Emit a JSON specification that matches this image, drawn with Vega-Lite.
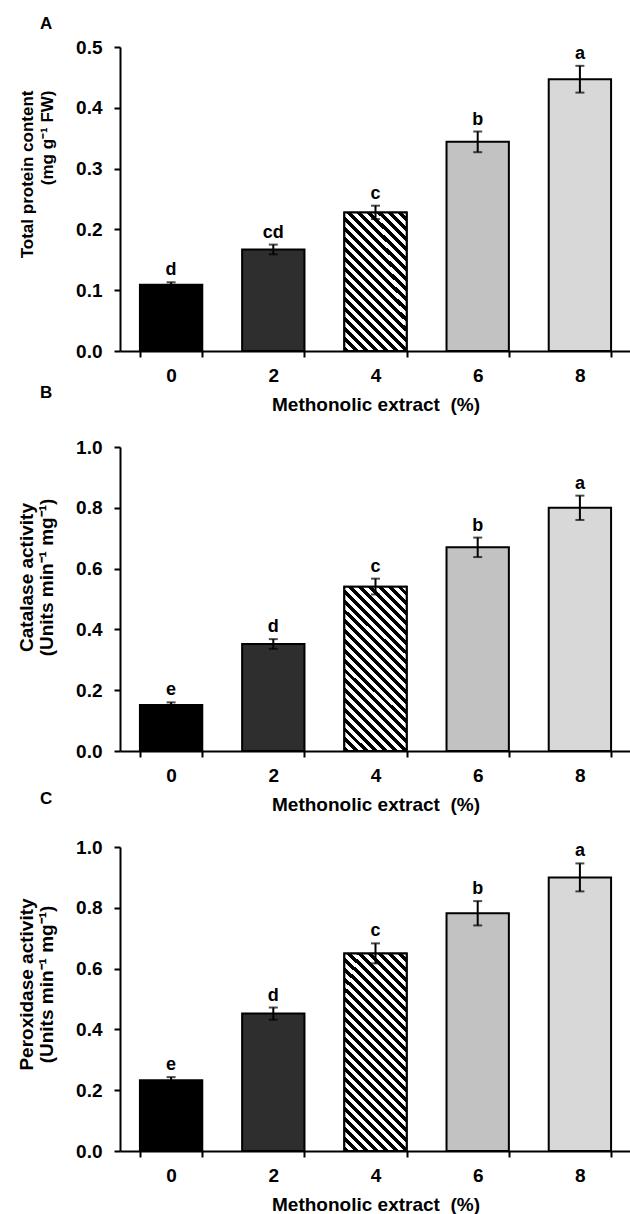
{
  "$schema": "https://vega.github.io/schema/vega-lite/v6.json",
  "padding": {"left": 17, "top": 15, "right": 0, "bottom": 0},
  "bounds": "flush",
  "spacing": 96,
  "vconcat": [
    {
      "width": 511, "height": 304,
      "title": {"text": "A", "offset": 5},
      "data": {"values": [
        {"extract": "0", "value": 0.109, "lo": 0.105, "hi": 0.113, "label": "d"},
        {"extract": "2", "value": 0.167, "lo": 0.159, "hi": 0.175, "label": "cd"},
        {"extract": "4", "value": 0.228, "lo": 0.217, "hi": 0.239, "label": "c"},
        {"extract": "6", "value": 0.344, "lo": 0.327, "hi": 0.361, "label": "b"},
        {"extract": "8", "value": 0.447, "lo": 0.425, "hi": 0.469, "label": "a"}
      ]},
      "encoding": {
        "x": {"field": "extract", "type": "ordinal", "scale": {"paddingInner": 0.39, "paddingOuter": 0.195}, "axis": {"title": "Methonolic extract\u00a0 (%)"}}
      },
      "layer": [
        {
          "mark": {"type": "bar", "stroke": "black", "strokeWidth": 2},
          "encoding": {
            "y": {"field": "value", "type": "quantitative", "scale": {"domain": [0, 0.5], "nice": false}, "axis": {"values": [0, 0.1, 0.2, 0.3, 0.4, 0.5], "format": ".1f", "titleFontSize": 17, "titleAlign": "right", "titleY": 43}, "title": ["Total protein content", "(mg g⁻¹ FW)"]},
            "fill": {"field": "extract", "type": "ordinal", "scale": {"domain": ["0", "2", "4", "6", "8"], "range": ["#000000", "#2e2e2e", "#ffffff", "#c2c2c2", "#d8d8d8"]}, "legend": null}
          }
        },
        {
          "transform": [{"filter": "datum.extract == '4'"}],
          "mark": {"type": "bar", "stroke": "black", "strokeWidth": 2, "fill": {
          "gradient": "linear", "x1": 0, "y1": 1, "x2": 0.538, "y2": -0.206,
          "stops": [
            {"offset": 0, "color": "#000"}, {"offset": 0.025, "color": "#000"}, {"offset": 0.025, "color": "#fff"}, {"offset": 0.05, "color": "#fff"},
            {"offset": 0.05, "color": "#000"}, {"offset": 0.075, "color": "#000"}, {"offset": 0.075, "color": "#fff"}, {"offset": 0.1, "color": "#fff"},
            {"offset": 0.1, "color": "#000"}, {"offset": 0.125, "color": "#000"}, {"offset": 0.125, "color": "#fff"}, {"offset": 0.15, "color": "#fff"},
            {"offset": 0.15, "color": "#000"}, {"offset": 0.175, "color": "#000"}, {"offset": 0.175, "color": "#fff"}, {"offset": 0.2, "color": "#fff"},
            {"offset": 0.2, "color": "#000"}, {"offset": 0.225, "color": "#000"}, {"offset": 0.225, "color": "#fff"}, {"offset": 0.25, "color": "#fff"},
            {"offset": 0.25, "color": "#000"}, {"offset": 0.275, "color": "#000"}, {"offset": 0.275, "color": "#fff"}, {"offset": 0.3, "color": "#fff"},
            {"offset": 0.3, "color": "#000"}, {"offset": 0.325, "color": "#000"}, {"offset": 0.325, "color": "#fff"}, {"offset": 0.35, "color": "#fff"},
            {"offset": 0.35, "color": "#000"}, {"offset": 0.375, "color": "#000"}, {"offset": 0.375, "color": "#fff"}, {"offset": 0.4, "color": "#fff"},
            {"offset": 0.4, "color": "#000"}, {"offset": 0.425, "color": "#000"}, {"offset": 0.425, "color": "#fff"}, {"offset": 0.45, "color": "#fff"},
            {"offset": 0.45, "color": "#000"}, {"offset": 0.475, "color": "#000"}, {"offset": 0.475, "color": "#fff"}, {"offset": 0.5, "color": "#fff"},
            {"offset": 0.5, "color": "#000"}, {"offset": 0.525, "color": "#000"}, {"offset": 0.525, "color": "#fff"}, {"offset": 0.55, "color": "#fff"},
            {"offset": 0.55, "color": "#000"}, {"offset": 0.575, "color": "#000"}, {"offset": 0.575, "color": "#fff"}, {"offset": 0.6, "color": "#fff"},
            {"offset": 0.6, "color": "#000"}, {"offset": 0.625, "color": "#000"}, {"offset": 0.625, "color": "#fff"}, {"offset": 0.65, "color": "#fff"},
            {"offset": 0.65, "color": "#000"}, {"offset": 0.675, "color": "#000"}, {"offset": 0.675, "color": "#fff"}, {"offset": 0.7, "color": "#fff"},
            {"offset": 0.7, "color": "#000"}, {"offset": 0.725, "color": "#000"}, {"offset": 0.725, "color": "#fff"}, {"offset": 0.75, "color": "#fff"},
            {"offset": 0.75, "color": "#000"}, {"offset": 0.775, "color": "#000"}, {"offset": 0.775, "color": "#fff"}, {"offset": 0.8, "color": "#fff"},
            {"offset": 0.8, "color": "#000"}, {"offset": 0.825, "color": "#000"}, {"offset": 0.825, "color": "#fff"}, {"offset": 0.85, "color": "#fff"},
            {"offset": 0.85, "color": "#000"}, {"offset": 0.875, "color": "#000"}, {"offset": 0.875, "color": "#fff"}, {"offset": 0.9, "color": "#fff"},
            {"offset": 0.9, "color": "#000"}, {"offset": 0.925, "color": "#000"}, {"offset": 0.925, "color": "#fff"}, {"offset": 0.95, "color": "#fff"},
            {"offset": 0.95, "color": "#000"}, {"offset": 0.975, "color": "#000"}, {"offset": 0.975, "color": "#fff"}, {"offset": 1, "color": "#fff"}
          ]}},
          "encoding": {"y": {"field": "value", "type": "quantitative", "title": ["Total protein content", "(mg g⁻¹ FW)"]}}
        },
        {
          "mark": {"type": "errorbar", "color": "black", "ticks": {"size": 9, "thickness": 2}, "rule": {"strokeWidth": 2}},
          "encoding": {"y": {"field": "lo", "type": "quantitative", "title": ["Total protein content", "(mg g⁻¹ FW)"]}, "y2": {"field": "hi"}}
        },
        {
          "mark": {"type": "text", "baseline": "bottom", "dy": -3, "fontSize": 18, "fontWeight": "bold", "font": "Liberation Sans", "color": "black"},
          "encoding": {"y": {"field": "hi", "type": "quantitative", "title": ["Total protein content", "(mg g⁻¹ FW)"]}, "text": {"field": "label"}}
        }
      ]
    },
    {
      "width": 511, "height": 304,
      "title": {"text": "B", "offset": 36},
      "data": {"values": [
        {"extract": "0", "value": 0.151, "lo": 0.143, "hi": 0.16, "label": "e"},
        {"extract": "2", "value": 0.352, "lo": 0.336, "hi": 0.368, "label": "d"},
        {"extract": "4", "value": 0.54, "lo": 0.515, "hi": 0.567, "label": "c"},
        {"extract": "6", "value": 0.67, "lo": 0.638, "hi": 0.702, "label": "b"},
        {"extract": "8", "value": 0.8, "lo": 0.76, "hi": 0.84, "label": "a"}
      ]},
      "encoding": {
        "x": {"field": "extract", "type": "ordinal", "scale": {"paddingInner": 0.39, "paddingOuter": 0.195}, "axis": {"title": "Methonolic extract\u00a0 (%)"}}
      },
      "layer": [
        {
          "mark": {"type": "bar", "stroke": "black", "strokeWidth": 2},
          "encoding": {
            "y": {"field": "value", "type": "quantitative", "scale": {"domain": [0, 1], "nice": false}, "axis": {"values": [0, 0.2, 0.4, 0.6, 0.8, 1.0], "format": ".1f", "titleY": 130}, "title": ["Catalase activity", "(Units min⁻¹ mg⁻¹)"]},
            "fill": {"field": "extract", "type": "ordinal", "scale": {"domain": ["0", "2", "4", "6", "8"], "range": ["#000000", "#2e2e2e", "#ffffff", "#c2c2c2", "#d8d8d8"]}, "legend": null}
          }
        },
        {
          "transform": [{"filter": "datum.extract == '4'"}],
          "mark": {"type": "bar", "stroke": "black", "strokeWidth": 2, "fill": {
          "gradient": "linear", "x1": 0, "y1": 1, "x2": 0.456, "y2": -0.206,
          "stops": [
            {"offset": 0, "color": "#000"}, {"offset": 0.02174, "color": "#000"}, {"offset": 0.02174, "color": "#fff"}, {"offset": 0.04348, "color": "#fff"},
            {"offset": 0.04348, "color": "#000"}, {"offset": 0.06522, "color": "#000"}, {"offset": 0.06522, "color": "#fff"}, {"offset": 0.08696, "color": "#fff"},
            {"offset": 0.08696, "color": "#000"}, {"offset": 0.1087, "color": "#000"}, {"offset": 0.1087, "color": "#fff"}, {"offset": 0.13043, "color": "#fff"},
            {"offset": 0.13043, "color": "#000"}, {"offset": 0.15217, "color": "#000"}, {"offset": 0.15217, "color": "#fff"}, {"offset": 0.17391, "color": "#fff"},
            {"offset": 0.17391, "color": "#000"}, {"offset": 0.19565, "color": "#000"}, {"offset": 0.19565, "color": "#fff"}, {"offset": 0.21739, "color": "#fff"},
            {"offset": 0.21739, "color": "#000"}, {"offset": 0.23913, "color": "#000"}, {"offset": 0.23913, "color": "#fff"}, {"offset": 0.26087, "color": "#fff"},
            {"offset": 0.26087, "color": "#000"}, {"offset": 0.28261, "color": "#000"}, {"offset": 0.28261, "color": "#fff"}, {"offset": 0.30435, "color": "#fff"},
            {"offset": 0.30435, "color": "#000"}, {"offset": 0.32609, "color": "#000"}, {"offset": 0.32609, "color": "#fff"}, {"offset": 0.34783, "color": "#fff"},
            {"offset": 0.34783, "color": "#000"}, {"offset": 0.36957, "color": "#000"}, {"offset": 0.36957, "color": "#fff"}, {"offset": 0.3913, "color": "#fff"},
            {"offset": 0.3913, "color": "#000"}, {"offset": 0.41304, "color": "#000"}, {"offset": 0.41304, "color": "#fff"}, {"offset": 0.43478, "color": "#fff"},
            {"offset": 0.43478, "color": "#000"}, {"offset": 0.45652, "color": "#000"}, {"offset": 0.45652, "color": "#fff"}, {"offset": 0.47826, "color": "#fff"},
            {"offset": 0.47826, "color": "#000"}, {"offset": 0.5, "color": "#000"}, {"offset": 0.5, "color": "#fff"}, {"offset": 0.52174, "color": "#fff"},
            {"offset": 0.52174, "color": "#000"}, {"offset": 0.54348, "color": "#000"}, {"offset": 0.54348, "color": "#fff"}, {"offset": 0.56522, "color": "#fff"},
            {"offset": 0.56522, "color": "#000"}, {"offset": 0.58696, "color": "#000"}, {"offset": 0.58696, "color": "#fff"}, {"offset": 0.6087, "color": "#fff"},
            {"offset": 0.6087, "color": "#000"}, {"offset": 0.63043, "color": "#000"}, {"offset": 0.63043, "color": "#fff"}, {"offset": 0.65217, "color": "#fff"},
            {"offset": 0.65217, "color": "#000"}, {"offset": 0.67391, "color": "#000"}, {"offset": 0.67391, "color": "#fff"}, {"offset": 0.69565, "color": "#fff"},
            {"offset": 0.69565, "color": "#000"}, {"offset": 0.71739, "color": "#000"}, {"offset": 0.71739, "color": "#fff"}, {"offset": 0.73913, "color": "#fff"},
            {"offset": 0.73913, "color": "#000"}, {"offset": 0.76087, "color": "#000"}, {"offset": 0.76087, "color": "#fff"}, {"offset": 0.78261, "color": "#fff"},
            {"offset": 0.78261, "color": "#000"}, {"offset": 0.80435, "color": "#000"}, {"offset": 0.80435, "color": "#fff"}, {"offset": 0.82609, "color": "#fff"},
            {"offset": 0.82609, "color": "#000"}, {"offset": 0.84783, "color": "#000"}, {"offset": 0.84783, "color": "#fff"}, {"offset": 0.86957, "color": "#fff"},
            {"offset": 0.86957, "color": "#000"}, {"offset": 0.8913, "color": "#000"}, {"offset": 0.8913, "color": "#fff"}, {"offset": 0.91304, "color": "#fff"},
            {"offset": 0.91304, "color": "#000"}, {"offset": 0.93478, "color": "#000"}, {"offset": 0.93478, "color": "#fff"}, {"offset": 0.95652, "color": "#fff"},
            {"offset": 0.95652, "color": "#000"}, {"offset": 0.97826, "color": "#000"}, {"offset": 0.97826, "color": "#fff"}, {"offset": 1, "color": "#fff"}
          ]}},
          "encoding": {"y": {"field": "value", "type": "quantitative", "title": ["Catalase activity", "(Units min⁻¹ mg⁻¹)"]}}
        },
        {
          "mark": {"type": "errorbar", "color": "black", "ticks": {"size": 9, "thickness": 2}, "rule": {"strokeWidth": 2}},
          "encoding": {"y": {"field": "lo", "type": "quantitative", "title": ["Catalase activity", "(Units min⁻¹ mg⁻¹)"]}, "y2": {"field": "hi"}}
        },
        {
          "mark": {"type": "text", "baseline": "bottom", "dy": -3, "fontSize": 18, "fontWeight": "bold", "font": "Liberation Sans", "color": "black"},
          "encoding": {"y": {"field": "hi", "type": "quantitative", "title": ["Catalase activity", "(Units min⁻¹ mg⁻¹)"]}, "text": {"field": "label"}}
        }
      ]
    },
    {
      "width": 511, "height": 304,
      "title": {"text": "C", "offset": 30},
      "data": {"values": [
        {"extract": "0", "value": 0.233, "lo": 0.223, "hi": 0.243, "label": "e"},
        {"extract": "2", "value": 0.452, "lo": 0.432, "hi": 0.472, "label": "d"},
        {"extract": "4", "value": 0.65, "lo": 0.617, "hi": 0.683, "label": "c"},
        {"extract": "6", "value": 0.782, "lo": 0.742, "hi": 0.822, "label": "b"},
        {"extract": "8", "value": 0.9, "lo": 0.854, "hi": 0.946, "label": "a"}
      ]},
      "encoding": {
        "x": {"field": "extract", "type": "ordinal", "scale": {"paddingInner": 0.39, "paddingOuter": 0.195}, "axis": {"title": "Methonolic extract\u00a0 (%)"}}
      },
      "layer": [
        {
          "mark": {"type": "bar", "stroke": "black", "strokeWidth": 2},
          "encoding": {
            "y": {"field": "value", "type": "quantitative", "scale": {"domain": [0, 1], "nice": false}, "axis": {"values": [0, 0.2, 0.4, 0.6, 0.8, 1.0], "format": ".1f", "titleY": 137}, "title": ["Peroxidase activity", "(Units min⁻¹ mg⁻¹)"]},
            "fill": {"field": "extract", "type": "ordinal", "scale": {"domain": ["0", "2", "4", "6", "8"], "range": ["#000000", "#2e2e2e", "#ffffff", "#c2c2c2", "#d8d8d8"]}, "legend": null}
          }
        },
        {
          "transform": [{"filter": "datum.extract == '4'"}],
          "mark": {"type": "bar", "stroke": "black", "strokeWidth": 2, "fill": {
          "gradient": "linear", "x1": 0, "y1": 1, "x2": 0.374, "y2": -0.196,
          "stops": [
            {"offset": 0, "color": "#000"}, {"offset": 0.01923, "color": "#000"}, {"offset": 0.01923, "color": "#fff"}, {"offset": 0.03846, "color": "#fff"},
            {"offset": 0.03846, "color": "#000"}, {"offset": 0.05769, "color": "#000"}, {"offset": 0.05769, "color": "#fff"}, {"offset": 0.07692, "color": "#fff"},
            {"offset": 0.07692, "color": "#000"}, {"offset": 0.09615, "color": "#000"}, {"offset": 0.09615, "color": "#fff"}, {"offset": 0.11538, "color": "#fff"},
            {"offset": 0.11538, "color": "#000"}, {"offset": 0.13462, "color": "#000"}, {"offset": 0.13462, "color": "#fff"}, {"offset": 0.15385, "color": "#fff"},
            {"offset": 0.15385, "color": "#000"}, {"offset": 0.17308, "color": "#000"}, {"offset": 0.17308, "color": "#fff"}, {"offset": 0.19231, "color": "#fff"},
            {"offset": 0.19231, "color": "#000"}, {"offset": 0.21154, "color": "#000"}, {"offset": 0.21154, "color": "#fff"}, {"offset": 0.23077, "color": "#fff"},
            {"offset": 0.23077, "color": "#000"}, {"offset": 0.25, "color": "#000"}, {"offset": 0.25, "color": "#fff"}, {"offset": 0.26923, "color": "#fff"},
            {"offset": 0.26923, "color": "#000"}, {"offset": 0.28846, "color": "#000"}, {"offset": 0.28846, "color": "#fff"}, {"offset": 0.30769, "color": "#fff"},
            {"offset": 0.30769, "color": "#000"}, {"offset": 0.32692, "color": "#000"}, {"offset": 0.32692, "color": "#fff"}, {"offset": 0.34615, "color": "#fff"},
            {"offset": 0.34615, "color": "#000"}, {"offset": 0.36538, "color": "#000"}, {"offset": 0.36538, "color": "#fff"}, {"offset": 0.38462, "color": "#fff"},
            {"offset": 0.38462, "color": "#000"}, {"offset": 0.40385, "color": "#000"}, {"offset": 0.40385, "color": "#fff"}, {"offset": 0.42308, "color": "#fff"},
            {"offset": 0.42308, "color": "#000"}, {"offset": 0.44231, "color": "#000"}, {"offset": 0.44231, "color": "#fff"}, {"offset": 0.46154, "color": "#fff"},
            {"offset": 0.46154, "color": "#000"}, {"offset": 0.48077, "color": "#000"}, {"offset": 0.48077, "color": "#fff"}, {"offset": 0.5, "color": "#fff"},
            {"offset": 0.5, "color": "#000"}, {"offset": 0.51923, "color": "#000"}, {"offset": 0.51923, "color": "#fff"}, {"offset": 0.53846, "color": "#fff"},
            {"offset": 0.53846, "color": "#000"}, {"offset": 0.55769, "color": "#000"}, {"offset": 0.55769, "color": "#fff"}, {"offset": 0.57692, "color": "#fff"},
            {"offset": 0.57692, "color": "#000"}, {"offset": 0.59615, "color": "#000"}, {"offset": 0.59615, "color": "#fff"}, {"offset": 0.61538, "color": "#fff"},
            {"offset": 0.61538, "color": "#000"}, {"offset": 0.63462, "color": "#000"}, {"offset": 0.63462, "color": "#fff"}, {"offset": 0.65385, "color": "#fff"},
            {"offset": 0.65385, "color": "#000"}, {"offset": 0.67308, "color": "#000"}, {"offset": 0.67308, "color": "#fff"}, {"offset": 0.69231, "color": "#fff"},
            {"offset": 0.69231, "color": "#000"}, {"offset": 0.71154, "color": "#000"}, {"offset": 0.71154, "color": "#fff"}, {"offset": 0.73077, "color": "#fff"},
            {"offset": 0.73077, "color": "#000"}, {"offset": 0.75, "color": "#000"}, {"offset": 0.75, "color": "#fff"}, {"offset": 0.76923, "color": "#fff"},
            {"offset": 0.76923, "color": "#000"}, {"offset": 0.78846, "color": "#000"}, {"offset": 0.78846, "color": "#fff"}, {"offset": 0.80769, "color": "#fff"},
            {"offset": 0.80769, "color": "#000"}, {"offset": 0.82692, "color": "#000"}, {"offset": 0.82692, "color": "#fff"}, {"offset": 0.84615, "color": "#fff"},
            {"offset": 0.84615, "color": "#000"}, {"offset": 0.86538, "color": "#000"}, {"offset": 0.86538, "color": "#fff"}, {"offset": 0.88462, "color": "#fff"},
            {"offset": 0.88462, "color": "#000"}, {"offset": 0.90385, "color": "#000"}, {"offset": 0.90385, "color": "#fff"}, {"offset": 0.92308, "color": "#fff"},
            {"offset": 0.92308, "color": "#000"}, {"offset": 0.94231, "color": "#000"}, {"offset": 0.94231, "color": "#fff"}, {"offset": 0.96154, "color": "#fff"},
            {"offset": 0.96154, "color": "#000"}, {"offset": 0.98077, "color": "#000"}, {"offset": 0.98077, "color": "#fff"}, {"offset": 1, "color": "#fff"}
          ]}},
          "encoding": {"y": {"field": "value", "type": "quantitative", "title": ["Peroxidase activity", "(Units min⁻¹ mg⁻¹)"]}}
        },
        {
          "mark": {"type": "errorbar", "color": "black", "ticks": {"size": 9, "thickness": 2}, "rule": {"strokeWidth": 2}},
          "encoding": {"y": {"field": "lo", "type": "quantitative", "title": ["Peroxidase activity", "(Units min⁻¹ mg⁻¹)"]}, "y2": {"field": "hi"}}
        },
        {
          "mark": {"type": "text", "baseline": "bottom", "dy": -3, "fontSize": 18, "fontWeight": "bold", "font": "Liberation Sans", "color": "black"},
          "encoding": {"y": {"field": "hi", "type": "quantitative", "title": ["Peroxidase activity", "(Units min⁻¹ mg⁻¹)"]}, "text": {"field": "label"}}
        }
      ]
    }
  ],
  "config": {
    "view": {"stroke": null},
    "font": "Liberation Sans",
    "background": "white",
    "title": {"anchor": "start", "frame": "group", "dx": -80, "fontSize": 17, "fontWeight": "bold", "font": "Liberation Sans", "color": "black"},
    "axis": {"domainColor": "black", "domainWidth": 2, "tickColor": "black", "tickWidth": 2, "grid": false, "labelColor": "black", "labelFont": "Liberation Sans", "labelFontWeight": "bold", "labelFontSize": 19, "titleFont": "Liberation Sans", "titleFontWeight": "bold", "titleFontSize": 19, "titleColor": "black"},
    "axisX": {"tickBand": "extent", "tickSize": 6, "labelPadding": 9, "titlePadding": 10, "labelAngle": 0},
    "axisY": {"tickSize": 6, "labelPadding": 12, "titlePadding": 19, "titleLineHeight": 20}
  }
}
